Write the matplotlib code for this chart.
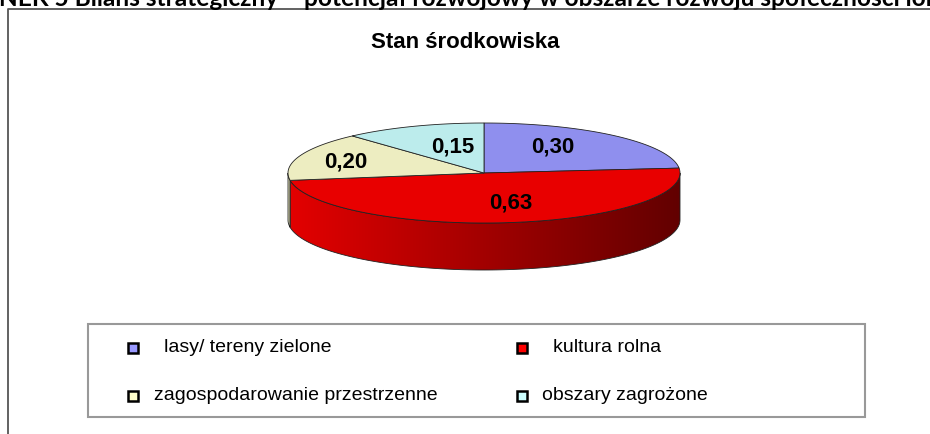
import numpy as np
import matplotlib
matplotlib.use("Agg")
import matplotlib.pyplot as plt
from matplotlib.colors import to_rgb
from matplotlib.patches import Polygon, Rectangle

# data
categories = ["lasy/ tereny zielone", "kultura rolna",
              "zagospodarowanie przestrzenne", "obszary zagrożone"]
values = [0.30, 0.63, 0.20, 0.15]
top_colors = ["#8f8fee", "#e80000", "#ededc1", "#bcecec"]
legend_colors = ["#9999ff", "#ff0000", "#ffffcc", "#ccffff"]
title = "Stan środkowiska"
heading = "ANEK 5 Bilans strategiczny – potencjał rozwojowy w obszarze rozwoju społeczności lokalnej"

# layout (pixels)
W, H = 930, 434
CX, CY, RX, RY, DEPTH = 484, 173, 196, 50, 47
label_r = [(0.52, 0.70), (1.11, 0.60), (0.75, 0.65), (0.45, 0.56)]
legend_x = [133, 522]
legend_y = [348, 396]
legend_dx = [31, 31, 21, 20]
FONT = "Liberation Sans"
HEAD_SIZE = 17.6


def ell(t_deg, dz=0.0):
    t = np.radians(t_deg)
    return CX + RX * np.cos(t), CY - RY * np.sin(t) + dz


fig = plt.figure(figsize=(W / 100, H / 100), dpi=100)
ax = fig.add_axes([0, 0, 1, 1])
ax.set_xlim(0, W)
ax.set_ylim(H, 0)
ax.axis("off")

# slice angles, clockwise from 12 o'clock
total = sum(values)
spans = []
start = 90.0
for v in values:
    end = start - v / total * 360.0
    spans.append((start, end))
    start = end

# side walls (front half only)
xs = np.linspace(CX - RX, CX + RX, 400)
shade = 0.98 - 0.56 * (xs - (CX - RX)) / (2 * RX)
for i, (t1, t2) in enumerate(spans):
    lo, hi = t2, t1
    for k in range(-2, 2):
        a = max(lo, -180 + 360 * k)
        b = min(hi, 0 + 360 * k)
        if b <= a:
            continue
        ts = np.linspace(a, b, 150)
        xt, yt = ell(ts)
        xb, yb = ell(ts[::-1], DEPTH)
        pts = np.column_stack([np.r_[xt, xb], np.r_[yt, yb]])
        side = Polygon(pts, closed=True, fc="none", ec="#222222", lw=0.6, zorder=2)
        ax.add_patch(side)
        img = np.clip(np.array(to_rgb(top_colors[i]))[None, None, :] * shade[None, :, None], 0, 1)
        im = ax.imshow(img, extent=(CX - RX, CX + RX, CY + DEPTH + RY + 2, CY - RY),
                       aspect="auto", interpolation="bilinear", zorder=1)
        im.set_clip_path(side)

# top faces
for i, (t1, t2) in enumerate(spans):
    ts = np.linspace(t1, t2, 150)
    x, y = ell(ts)
    pts = np.vstack([[CX, CY], np.column_stack([x, y])])
    ax.add_patch(Polygon(pts, closed=True, fc=top_colors[i], ec="#222222", lw=0.6, zorder=3))
    mid = np.radians((t1 + t2) / 2)
    fx, fy = label_r[i]
    ax.text(CX + RX * np.cos(mid) * fx, CY - RY * np.sin(mid) * fy,
            f"{values[i]:.2f}".replace(".", ","), ha="center", va="center",
            fontsize=16, fontweight="bold", family=FONT, zorder=5)

ax.set_xlim(0, W)
ax.set_ylim(H, 0)

# title
ax.text(465, 42, title, ha="center", va="center", fontsize=16,
        fontweight="bold", family=FONT)

# chart frame (runs off the right and bottom)
ax.plot([8, 8, W + 10], [H + 10, 9, 9], color="#555555", lw=1.3, clip_on=False)

# legend
ax.add_patch(Rectangle((88, 324), 777, 93, fill=False, ec="#999999", lw=1.5))
for i, name in enumerate(categories):
    mx = legend_x[i % 2]
    my = legend_y[i // 2]
    ax.add_patch(Rectangle((mx - 5, my - 5), 10, 10, fc=legend_colors[i],
                           ec="black", lw=1.8, zorder=4))
    ax.text(mx + legend_dx[i], my, name, ha="left", va="center",
            fontsize=14, family=FONT)

# page heading cut off at the top
renderer = fig.canvas.get_renderer()
tmp = ax.text(0, 0, "A", fontsize=HEAD_SIZE, fontweight="bold", family="Lato")
w_a = tmp.get_window_extent(renderer).width
tmp.remove()
ax.text(-w_a - 1, 6.5, heading, ha="left", va="baseline", fontsize=HEAD_SIZE,
        fontweight="bold", family="Lato")

fig.savefig("out.png", dpi=100)
